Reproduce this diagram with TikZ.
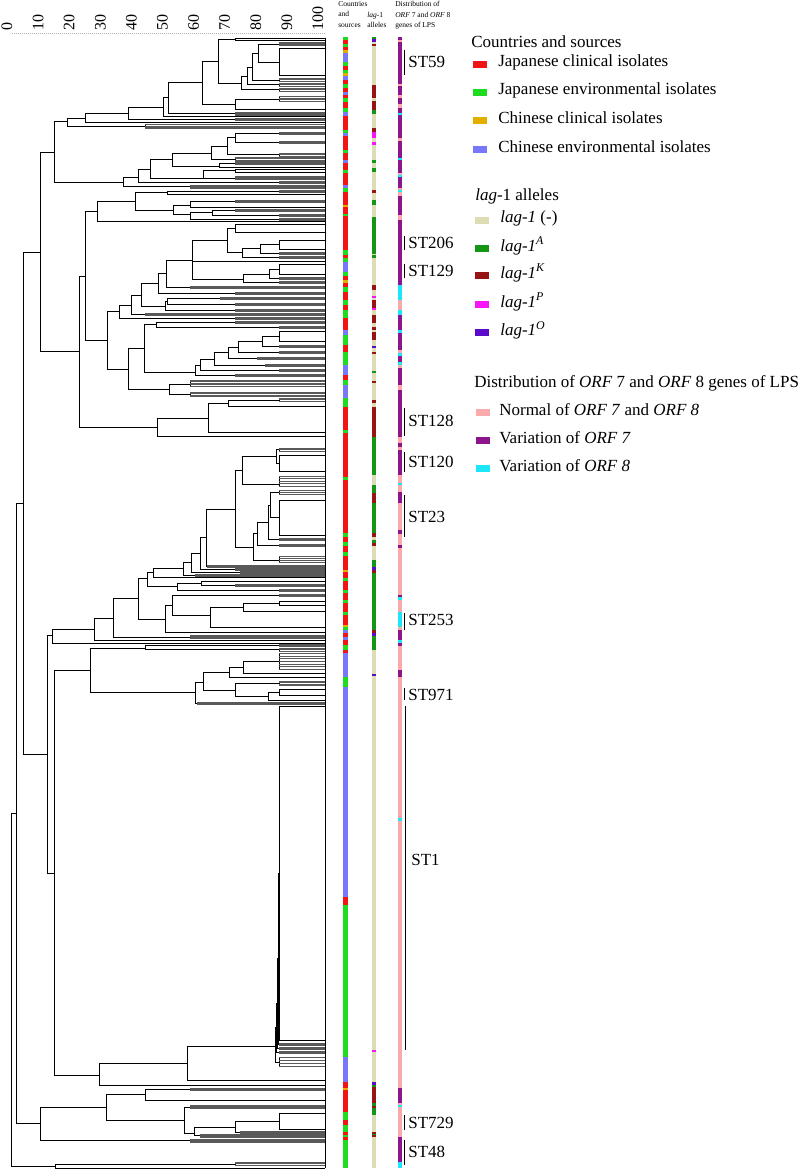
\documentclass[tikz,border=0pt]{standalone}
\usepackage{fontspec}
\setmainfont{Liberation Serif}

\definecolor{cJC}{RGB}{240,20,20}
\definecolor{cJE}{RGB}{30,220,30}
\definecolor{cCC}{RGB}{225,175,0}
\definecolor{cCE}{RGB}{120,120,250}
\definecolor{cLN}{RGB}{222,220,180}
\definecolor{cLA}{RGB}{20,150,20}
\definecolor{cLK}{RGB}{150,20,20}
\definecolor{cLP}{RGB}{250,20,250}
\definecolor{cLO}{RGB}{90,10,200}
\definecolor{cON}{RGB}{250,170,170}
\definecolor{cOS}{RGB}{140,20,140}
\definecolor{cOE}{RGB}{30,230,250}

% node of the tree: x, top y, bottom y, x of top child, x of bottom child
\newcommand{\nd}[5]{\draw (#4,#2) -- (#1,#2) -- (#1,#3) -- (#5,#3);}
% stack of leaves
\newcommand{\fan}[4]{\draw (#1,#2) -- (#1,#3);
  \foreach \k [evaluate=\k as \yy using #2+(#3-#2)*\k/#4] in {0,...,#4}
    \draw[lf] (#1,\yy) -- (325,\yy);}
% identical isolates
\newcommand{\rct}[3]{\draw (#1,#2) rectangle (325,#3);}

\begin{document}
\begin{tikzpicture}[
                x=1pt,y=-1pt,
                line width=.65pt,
                lf/.style={line width=.3pt,black!65},
                leg/.style={anchor=west,inner sep=0pt,font=\fontsize{17}{20}\selectfont},
                sw/.style={minimum width=14pt,minimum height=7pt,inner sep=0pt},
                hd/.style={anchor=north west,align=left,inner sep=0pt,font=\fontsize{7.5}{10.5}\selectfont}]

\useasboundingbox (0,0) rectangle (804,1176);

% scale
\draw[gray!60,line width=1pt,dash pattern=on 1pt off 1pt] (12,33) -- (325,33);
\foreach \i [evaluate=\i as \v using int(10*\i)] in {0,...,10}
  \node[rotate=90,anchor=west,inner sep=0pt,font=\fontsize{16}{16}\selectfont] (T\i) at ({7+31.1*\i},31) {\v};

% tips
\draw[line width=.5pt] (325,38) -- (325,1168);

                    % top
                    \nd{235}{38}{40}{325}{325}
                    \rct{279}{48}{75}
                    \fan{279}{42}{45}{3}
                    \nd{258}{44}{62}{279}{279}
                    \fan{279}{78}{81}{2}
                    \nd{252}{53}{80}{258}{279}
                    \fan{279}{83}{86}{2}
                    \nd{247}{67}{84}{252}{279}
                    \fan{279}{88}{91}{2}
                    \nd{241}{76}{89}{247}{279}
                    \nd{218}{39}{83}{235}{241}
                    \fan{279}{96}{101}{3}
                    \nd{235}{99}{109}{279}{325}
                    \nd{202}{61}{104}{218}{235}
                    \fan{235}{112}{115}{3}
                    \nd{168}{82}{113}{202}{235}
                    \nd{163}{97}{116.5}{168}{325}
                    \fan{235}{118.5}{120.5}{2}
                    \nd{128}{107}{119.5}{163}{235}
                    \nd{85}{113}{122.5}{128}{325}
                    \fan{145}{124.5}{128}{3}
                    \nd{67}{118}{126}{85}{145}
                    \nd{54}{121}{182}{67}{123}

                    \fan{279}{132}{134}{2}
                    \fan{279}{141}{143}{2}
                    \nd{235}{133}{142}{279}{279}
                    \fan{279}{153}{156}{2}
                    \nd{227}{137}{154}{235}{279}
                    \fan{235}{157}{161}{3}
                    \nd{211}{146}{159}{227}{235}
                    \fan{235}{162}{164}{2}
                    \nd{219}{163}{167}{235}{325}
                    \nd{172}{153}{166}{211}{219}
                    \nd{235}{169}{172}{325}{325}
                    \fan{235}{176}{179}{3}
                    \nd{203}{170}{178}{235}{235}
                    \nd{150}{159}{178}{172}{203}
                    \fan{279}{181}{183}{2}
                    \nd{138}{169}{182}{150}{279}
                    \fan{190}{185}{188}{3}
                    \nd{123}{177}{186}{138}{190}
                    \nd{40}{152}{351.5}{54}{79}

                    \fan{279}{190}{192}{2}
                    \nd{167}{191}{194}{279}{325}
                    \fan{235}{200}{202}{2}
                    \nd{190}{201}{207}{235}{325}
                    \fan{235}{209}{211}{2}
                    \fan{279}{214}{216}{2}
                    \nd{212}{210}{215}{235}{279}
                    \fan{279}{218}{220}{2}
                    \nd{190}{212}{219}{212}{279}
                    \nd{173}{205}{214}{190}{190}
                    \nd{135}{192}{210}{167}{173}
                    \nd{97}{201}{221.5}{135}{325}
                    \nd{85}{211}{340}{97}{107}
                    \nd{79}{276}{427}{85}{157}

                    \rct{235}{224}{232}
                    \rct{279}{240}{249}
                    \fan{279}{252}{254}{2}
                    \nd{260}{244}{253}{279}{279}
                    \fan{279}{256}{258}{2}
                    \nd{242}{248}{257}{260}{279}
                    \nd{227}{228}{252}{235}{242}
                    \rct{279}{264}{274}
                    \fan{279}{277}{279}{2}
                    \nd{269}{269}{278}{279}{279}
                    \fan{279}{281}{283}{2}
                    \nd{243}{274}{282}{269}{279}
                    \nd{192}{240}{279}{227}{243}
                    \draw (192,261) -- (325,261);
                    \fan{190}{286}{288}{2}
                    \nd{166}{260}{287}{192}{190}
                    \fan{235}{292}{294}{2}
                    \nd{158}{273}{293}{166}{235}
                    \fan{220}{297}{299}{2}
                    \fan{235}{303}{305}{2}
                    \nd{167}{298}{304}{220}{235}
                    \fan{235}{309}{311}{2}
                    \nd{165}{301}{310}{167}{235}
                    \nd{141}{283}{306}{158}{165}
                    \fan{145}{313}{315}{2}
                    \nd{131}{295}{314}{141}{145}
                    \fan{235}{317}{319}{2}
                    \nd{119}{305}{318}{131}{235}
                    \nd{107}{311}{369}{119}{128}

                    \fan{235}{321}{323}{2}
                    \fan{279}{326}{328}{2}
                    \nd{156}{322}{327}{235}{279}
                    \rct{279}{331}{341}
                    \fan{279}{345}{347}{2}
                    \nd{262}{336}{346}{279}{279}
                    \fan{279}{351}{353}{2}
                    \nd{238}{341}{352}{262}{279}
                    \fan{257}{357}{359}{2}
                    \nd{228}{347}{358}{238}{257}
                    \fan{265}{364}{366}{2}
                    \nd{214}{352}{365}{228}{265}
                    \fan{279}{369}{371}{2}
                    \nd{200}{359}{370}{214}{279}
                    \fan{235}{374}{376}{2}
                    \nd{195}{365}{375}{200}{235}
                    \nd{144}{324}{372}{156}{195}
                    \fan{190}{380}{386}{4}
                    \fan{190}{392}{396}{3}
                    \nd{169}{384}{394}{190}{190}
                    \nd{128}{348}{389}{144}{169}

                    \fan{279}{398}{401}{2}
                    \nd{228}{400}{406}{279}{325}
                    \nd{208}{403}{432}{228}{325}
                    \nd{157}{418}{436}{208}{325}

                    \fan{279}{448}{451}{2}
                    \rct{279}{455}{471}
                    \nd{276}{449}{463}{279}{279}
                    \fan{279}{476}{486}{4}
                    \nd{242}{456}{484}{276}{279}

                    \fan{279}{490}{494}{2}
                    \rct{279}{500}{535}
                    \nd{270}{492}{517}{279}{279}
                    \fan{279}{538}{540}{2}
                    \nd{268}{505}{539}{270}{279}
                    \fan{279}{544}{546}{2}
                    \nd{257}{522}{545}{268}{279}
                    \fan{279}{556}{562}{3}
                    \nd{253}{533}{560}{257}{279}
                    \nd{235}{470}{547}{242}{253}
                    \fan{207}{565}{567}{2}
                    \nd{206}{509}{566}{235}{207}
                    \fan{235}{568}{570}{2}
                    \nd{200}{537}{569}{206}{235}
                    \fan{240}{571}{573}{2}
                    \nd{191}{553}{572}{200}{240}
                    \fan{195}{574}{576}{2}
                    \nd{183}{562}{575}{191}{195}
                    \nd{153}{568}{577}{183}{325}
                    \fan{235}{584}{586}{2}
                    \nd{201}{581}{585}{325}{235}
                    \fan{279}{589}{591}{2}
                    \nd{177}{583}{590}{201}{279}
                    \nd{147}{572}{586}{153}{177}

                    \fan{279}{594}{596}{2}
                    \rct{279}{601}{605}
                    \nd{243}{603}{611}{279}{325}
                    \nd{210}{607}{627}{243}{325}
                    \nd{172}{595}{615}{279}{210}
                    \nd{165}{605}{632}{172}{325}
                    \nd{138}{578}{619}{147}{165}
                    \fan{190}{635}{638}{3}
                    \nd{113}{598}{637}{138}{190}
                    \nd{94}{618}{640}{113}{325}
                    \nd{52}{629}{643}{94}{325}

                    \fan{279}{644}{646}{2}
                    \fan{279}{648}{651}{2}
                    \nd{145}{645}{649.5}{279}{279}
                    \fan{279}{653}{669}{6}
                    \nd{243}{661}{673}{279}{325}
                    \nd{229}{667}{677}{243}{325}
                    \fan{279}{681}{685}{3}
                    \rct{279}{689}{695}
                    \nd{268}{692}{700}{279}{325}
                    \nd{235}{683}{696}{279}{268}
                    \nd{203}{672}{690}{229}{235}
                    \fan{197}{702}{704}{2}
                    \nd{195}{682}{703}{203}{197}
                    \nd{90}{648}{692}{145}{195}

                    % ST1
                    \rct{279}{706}{1040}
                    \fan{279}{1043}{1045}{2}
                    \nd{278}{873}{1044}{279}{279}
                    \fan{279}{1047}{1049}{2}
                    \nd{277}{958}{1048}{278}{279}
                    \fan{279}{1051}{1053}{2}
                    \nd{276}{1003}{1052}{277}{279}
                    \fan{279}{1057}{1066}{3}
                    \nd{275}{1027}{1062}{276}{279}
                    \nd{187}{1046}{1080}{275}{325}
                    \nd{99}{1063}{1085}{187}{325}
                    \nd{54}{670}{1075}{90}{99}
                    \nd{47}{635}{873}{52}{54}
                    \nd{23}{252}{754}{40}{47}

                    % bottom
                    \fan{190}{1088}{1090}{2}
                    \nd{145}{1089}{1100}{190}{325}
                    \fan{190}{1105}{1108}{3}
                    \rct{279}{1113}{1129}
                    \fan{240}{1131}{1133}{2}
                    \nd{235}{1121}{1132}{279}{240}
                    \fan{200}{1134}{1137}{3}
                    \nd{194}{1127}{1135}{235}{200}
                    \nd{184}{1107}{1133}{190}{194}
                    \nd{106}{1094}{1120}{145}{184}
                    \fan{190}{1139}{1142}{3}
                    \nd{40}{1107}{1140}{106}{190}
                    \nd{16}{503}{1123}{23}{40}
                    \fan{235}{1162}{1165}{2}
                    \nd{55}{1164}{1168}{235}{325}
                    \nd{11}{813}{1166}{16}{55}

% countries and sources
\foreach \a/\b/\c in {37/40/cJE,40/44/cJC,44/47/cJE,47/50/cJC,50/53/cCC,53/62/cCE,62/66/cJE,66/70/cJC,70/73/cJE,73/76/cCC,
  76/80/cCE,80/84/cJC,84/88/cJE,88/92/cJC,92/95/cCE,95/98/cJC,98/102/cJE,102/108/cJC,108/112/cJE,112/116/cCE,
  116/130/cJC,130/133/cJE,133/136/cCE,136/150/cJC,150/153/cJE,153/160/cJC,160/163/cCE,163/170/cJC,170/173/cJE,173/185/cJC,
  185/188/cCE,188/192/cJE,192/205/cJC,205/207/cCC,207/214/cJC,214/216/cJE,216/250/cJC,250/255/cJE,255/258/cJC,258/262/cJE,
  262/272/cCE,272/276/cJE,276/280/cJC,280/283/cCC,283/287/cJC,287/292/cJE,292/300/cJC,300/305/cJE,305/310/cJC,310/318/cJE,
  318/330/cJC,330/335/cCE,335/345/cJE,345/352/cJC,352/365/cJE,365/375/cCE,375/380/cJC,380/385/cJE,385/398/cCE,398/407/cJE,
  407/430/cJC,430/433/cJE,433/477/cJC,477/480/cJE,480/533/cJC,533/537/cJE,537/542/cJC,542/546/cJE,546/552/cJC,552/556/cJE,
  556/570/cJC,570/572/cCC,572/578/cJC,578/581/cJE,581/590/cJC,590/593/cJE,593/600/cJC,600/603/cJE,603/612/cJC,612/615/cJE,
  615/625/cJC,625/627/cCC,627/630/cJE,630/633/cCE,633/637/cJC,637/640/cCE,640/645/cJC,645/650/cJE,650/653/cJC,653/677/cCE,
  677/687/cJE,687/897/cCE,897/905/cJC,905/1057/cJE,1057/1082/cCE,1082/1088/cJC,1088/1090/cCC,1090/1112/cJC,1112/1120/cJE,
  1120/1125/cJC,1125/1132/cJE,1132/1135/cJC,1135/1137/cJE,1137/1140/cJC,1140/1168/cJE}
  \fill[fill=\c] (343,\a) rectangle (348,\b);

% lag-1
\fill[cLN] (372,37) rectangle (376,1168);
\foreach \a/\b/\c in {37/39/cLA,39/42/cLO,44/46/cLK,85/98/cLK,101/110/cLK,110/114/cLA,128/132/cLK,132/138/cLP,142/145/cLP,
  160/163/cLA,168/172/cLA,190/193/cLK,200/205/cLA,217/254/cLA,255/258/cLA,285/290/cLK,296/298/cLP,300/308/cLK,308/310/cLP,
  315/323/cLK,327/330/cLK,332/340/cLK,346/348/cLO,352/354/cLK,371/373/cLA,381/383/cLK,400/403/cLK,407/437/cLK,437/475/cLA,
  485/493/cLA,493/503/cLK,503/533/cLA,533/537/cLK,540/543/cLA,543/546/cLK,560/567/cLA,567/570/cLO,570/573/cLK,573/630/cLA,
  630/633/cLK,633/636/cLO,636/650/cLA,674/676/cLO,1050/1052/cLP,1082/1085/cLO,1085/1087/cLA,1087/1103/cLK,1103/1106/cLA,
  1106/1108/cLK,1108/1115/cLA,1132/1133.5/cLK,1133.5/1135/cLA,1135/1137/cLK}
  \fill[fill=\c] (372,\a) rectangle (376,\b);

% ORF 7 / ORF 8
\fill[cON] (398,37) rectangle (402,1168);
\foreach \a/\b/\c in {37/40/cOS,42/84/cOS,86/95/cOS,98/104/cOS,108/113/cOS,113/115/cOE,115/138/cOS,141/158/cOS,158/160/cOE,
  160/173/cOS,175/177/cOE,177/188/cOS,190/192/cOE,196/215/cOS,220/285/cOS,285/300/cOE,310/315/cOE,315/330/cOS,330/333/cOE,
  333/350/cOS,353/356/cOE,356/362/cOS,362/365/cOE,368/385/cOS,390/437/cOS,443/447/cOS,450/475/cOS,483/485/cOE,492/503/cOS,
  530/534/cOS,545/548/cOS,595/597/cOS,597/600/cOE,612/627/cOE,630/640/cOS,640/643/cOE,643/646/cOS,670/677/cOS,818/821/cOE,
  1088/1103/cOS,1105/1107/cOE,1137/1162/cOS,1162/1168/cOE}
  \fill[fill=\c] (398,\a) rectangle (402,\b);

% column heads
\node[hd] (HC) at (338,1) {Countries\\and\\sources};
\node[hd] (HL) at (367,11.5) {\textit{lag}-1\\alleles};
\node[hd] (HO) at (395,1) {Distribution of\\\textit{ORF} 7 and \textit{ORF} 8\\genes of LPS};

% ST
\foreach \n/\a/\b/\m in {59/50/75/62,206/236/250/243,129/264/278/271,128/408/436/421,120/452/472/462,23/495/537/517,
  253/613/630/620,971/688/700/695,729/1115/1130/1123,48/1140/1165/1152}
  {\draw[line width=1pt] (404,\a) -- (404,\b);
   \node[leg] (ST\n) at (408,\m) {ST\n};}
\draw[line width=.8pt] (405,706) -- (405,1050);
\node[leg] (ST1) at (411,860) {ST1};

                    % legend 1
                    \node[leg] (CS) at (471,42) {Countries and sources};
                    \node[sw,fill=cJC] (SJC) at (480,64) {};
                    \node[leg] (CS1) at (498,62) {Japanese clinical isolates};
                    \node[sw,fill=cJE] (SJE) at (480,92) {};
                    \node[leg] (CS2) at (498,90) {Japanese environmental isolates};
                    \node[sw,fill=cCC] (SCC) at (480,120) {};
                    \node[leg] (CS3) at (498,118) {Chinese clinical isolates};
                    \node[sw,fill=cCE] (SCE) at (480,149) {};
                    \node[leg] (CS4) at (498,147) {Chinese environmental isolates};

                    % legend 2
                    \node[leg] (LA) at (475,196) {\textit{lag}-1 alleles};
                    \node[sw,fill=cLN] (SLN) at (482,220) {};
                    \node[leg] (LA1) at (500,218) {\textit{lag-1} (-)};
                    \node[sw,fill=cLA] (SLA) at (482,248) {};
                    \node[leg] (LA2) at (500,246) {\textit{lag-1}\textsuperscript{\textit{A}}};
                    \node[sw,fill=cLK] (SLK) at (482,275) {};
                    \node[leg] (LA3) at (500,273) {\textit{lag-1}\textsuperscript{\textit{K}}};
                    \node[sw,fill=cLP] (SLP) at (482,304) {};
                    \node[leg] (LA4) at (500,302) {\textit{lag-1}\textsuperscript{\textit{P}}};
                    \node[sw,fill=cLO] (SLO) at (482,332) {};
                    \node[leg] (LA5) at (500,330) {\textit{lag-1}\textsuperscript{\textit{O}}};

                    % legend 3
                    \node[leg] (OR) at (474,383) {Distribution of \textit{ORF} 7 and \textit{ORF} 8 genes of LPS};
                    \node[sw,fill=cON] (SON) at (483,412) {};
                    \node[leg] (OR1) at (499,410) {Normal of \textit{ORF 7} and \textit{ORF 8}};
                    \node[sw,fill=cOS] (SOS) at (483,440) {};
                    \node[leg] (OR2) at (499,438) {Variation of \textit{ORF 7}};
                    \node[sw,fill=cOE] (SOE) at (483,468) {};
                    \node[leg] (OR3) at (499,466) {Variation of \textit{ORF 8}};

\end{tikzpicture}
\end{document}
